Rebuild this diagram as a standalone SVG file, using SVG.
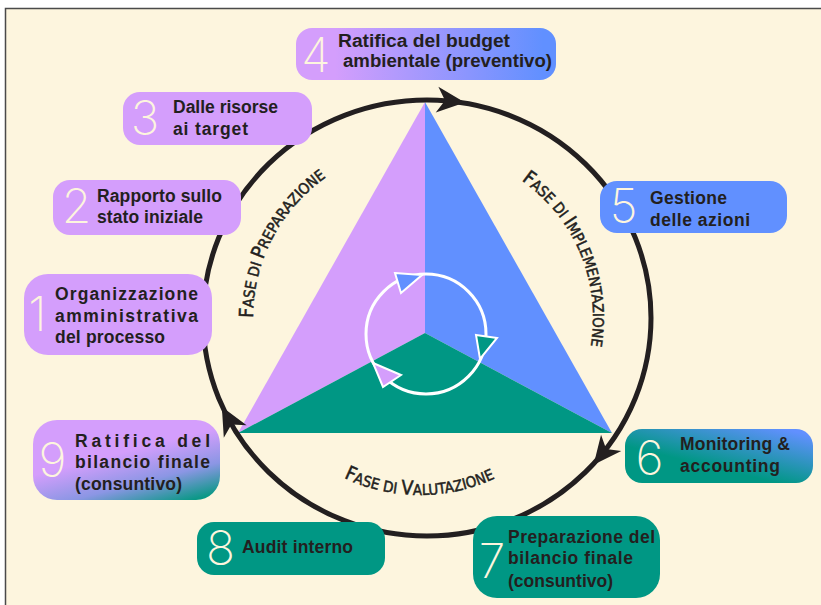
<svg xmlns="http://www.w3.org/2000/svg" width="821" height="605" viewBox="0 0 821 605">
<style>
.lbl{font-family:"Liberation Sans",Arial,sans-serif;font-weight:bold;font-size:17.5px;fill:#231F20}
.num{font-family:Inter,"Noto Sans",sans-serif;font-weight:200;font-size:48px;fill:#FDF5DE;text-anchor:middle}
.ph{font-family:"DejaVu Sans",sans-serif;font-stretch:condensed;font-size:15px;fill:#231F20;stroke:#231F20;stroke-width:0.5}
.cap{font-size:19.5px}
.ring{fill:none;stroke:#231F20;stroke-width:5}
.inner{fill:none;stroke:#FFFFFF;stroke-width:3}
.ih{stroke:#FFFFFF;stroke-width:2;stroke-linejoin:miter}
.pu{fill:#D49EFC}.bl{fill:#6190FF}.te{fill:#009784}
</style>
<defs>
<linearGradient id="g4" x1="0" y1="0" x2="1" y2="0">
<stop offset="0.15" stop-color="#D49EFC"/><stop offset="0.95" stop-color="#6190FF"/>
</linearGradient>
<linearGradient id="g9" x1="0.25" y1="0" x2="0.85" y2="1">
<stop offset="0.4" stop-color="#D49EFC"/><stop offset="0.72" stop-color="#8B96E4"/><stop offset="1" stop-color="#0A9886"/>
</linearGradient>
<linearGradient id="g6" x1="0.1" y1="1" x2="0.95" y2="0">
<stop offset="0.35" stop-color="#009784"/><stop offset="0.95" stop-color="#6190FF"/>
</linearGradient>
<path id="ah" d="M15,0 L-13,-13 L-5,0 L-13,13 Z" fill="#231F20"/>
<path id="pL" d="M253,318 A172,172 0 0 1 395.1,148.6" fill="none"/>
<path id="pR" d="M521.4,180.4 A168,168 0 0 1 570.5,402" fill="none"/>
<path id="pB" d="M343.8,477.8 A177,177 0 0 0 555.6,431.8" fill="none"/>
</defs>
<rect x="0" y="0" width="821" height="605" fill="#FFFFFF"/>
<rect x="5.5" y="8.5" width="830" height="610" fill="#FDF5DE" stroke="#4A4A4A" stroke-width="1.5"/>

<g id="triangle">
<polygon class="pu" points="425,102 425,333 238,433"/>
<polygon class="bl" points="425,102 612,433 425,333"/>
<polygon class="te" points="238,433 425,333 612,433"/>
</g>

<g id="connectors">
<ellipse class="ring" cx="427" cy="318" rx="224" ry="218"/>
<use href="#ah" transform="translate(450,101) rotate(5.8)"/>
<use href="#ah" transform="translate(603,453) rotate(128.9)"/>
<use href="#ah" transform="translate(229,420) rotate(241.4)"/>
<circle class="inner" cx="426" cy="334" r="60"/>
<polygon class="ih bl" points="395,273 422,275 401,293"/>
<polygon class="ih te" points="476,335 497,338 480,359"/>
<polygon class="ih pu" points="373,363 401,375 383,387"/>
</g>

<g id="phases">
<text class="ph"><textPath href="#pL"><tspan class="cap">F</tspan>ASE DI <tspan class="cap">P</tspan>REPARAZIONE</textPath></text>
<text class="ph"><textPath href="#pR"><tspan class="cap">F</tspan>ASE DI <tspan class="cap">I</tspan>MPLEMENTAZIONE</textPath></text>
<text class="ph"><textPath href="#pB"><tspan class="cap">F</tspan>ASE DI <tspan class="cap">V</tspan>ALUTAZIONE</textPath></text>
</g>

<g id="n4">
<rect x="296" y="28" width="260" height="52" rx="16" fill="url(#g4)"/>
<text class="num" x="316" y="72">4</text>
<text class="lbl" x="338" y="47" textLength="172" lengthAdjust="spacingAndGlyphs">Ratifica del budget</text>
<text class="lbl" x="343" y="67" textLength="209" lengthAdjust="spacingAndGlyphs">ambientale (preventivo)</text>
</g>
<g id="n3">
<rect x="123" y="92" width="189" height="53" rx="17" class="pu"/>
<text class="num" x="145" y="135">3</text>
<text class="lbl" x="173" y="113" textLength="105">Dalle risorse</text>
<text class="lbl" x="173" y="135" textLength="75">ai target</text>
</g>
<g id="n2">
<rect x="53" y="180" width="188" height="55" rx="17" class="pu"/>
<text class="num" x="76.5" y="223">2</text>
<text class="lbl" x="97" y="202" textLength="125">Rapporto sullo</text>
<text class="lbl" x="97" y="223" textLength="106">stato iniziale</text>
</g>
<g id="n1">
<rect x="24" y="274" width="188" height="81" rx="24" class="pu"/>
<text class="num" x="37.5" y="331">1</text>
<text class="lbl" x="55" y="300" textLength="143">Organizzazione</text>
<text class="lbl" x="55" y="322" textLength="143">amministrativa</text>
<text class="lbl" x="55" y="343" textLength="110">del processo</text>
</g>
<g id="n9">
<rect x="33" y="420" width="187" height="80" rx="24" fill="url(#g9)"/>
<text class="num" x="52.5" y="477">9</text>
<text class="lbl" x="75" y="447" textLength="135">Ratifica del</text>
<text class="lbl" x="75" y="468" textLength="135">bilancio finale</text>
<text class="lbl" x="75" y="490" textLength="107">(consuntivo)</text>
</g>
<g id="n8">
<rect x="197" y="522" width="188" height="53" rx="17" class="te"/>
<text class="num" x="220.5" y="565">8</text>
<text class="lbl" x="242" y="553" textLength="111">Audit interno</text>
</g>
<g id="n7">
<rect x="473" y="516" width="187" height="82" rx="24" class="te"/>
<text class="num" x="492" y="578">7</text>
<text class="lbl" x="508" y="543" textLength="147">Preparazione del</text>
<text class="lbl" x="508" y="564" textLength="125">bilancio finale</text>
<text class="lbl" x="508" y="587" textLength="105">(consuntivo)</text>
</g>
<g id="n5">
<rect x="600" y="181" width="187" height="52" rx="17" class="bl"/>
<text class="num" x="623.5" y="223">5</text>
<text class="lbl" x="650" y="204" textLength="77">Gestione</text>
<text class="lbl" x="650" y="226" textLength="100">delle azioni</text>
</g>
<g id="n6">
<rect x="625" y="429" width="188" height="54" rx="17" fill="url(#g6)"/>
<text class="num" x="649.5" y="475">6</text>
<text class="lbl" x="680" y="450" textLength="110">Monitoring &amp;</text>
<text class="lbl" x="680" y="472" textLength="100">accounting</text>
</g>
</svg>
